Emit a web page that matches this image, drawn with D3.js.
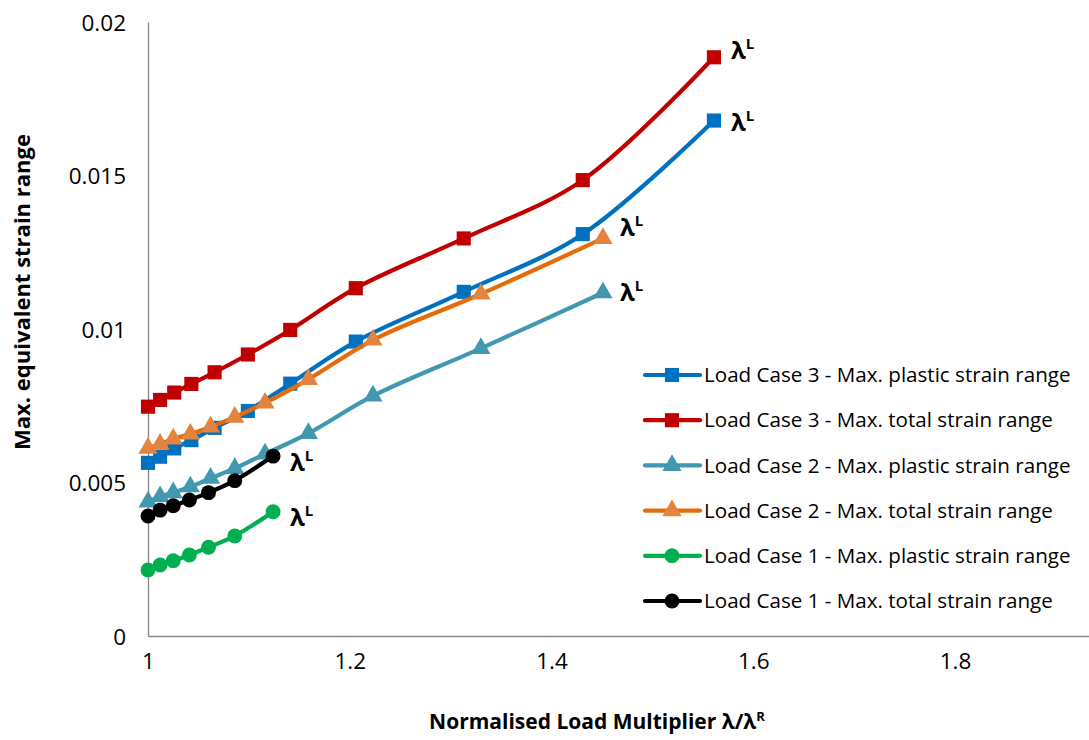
<!DOCTYPE html>
<html><head><meta charset="utf-8">
<script src="https://cdn.jsdelivr.net/npm/d3@7"></script>
<style>body{margin:0;background:#fff}svg{display:block}</style>
</head><body>
<svg id="chart" width="1089" height="740"></svg>
<script>
// ---- data ----
const lc3X = [1.000, 1.012, 1.026, 1.043, 1.066, 1.099, 1.141, 1.206, 1.313, 1.431, 1.561];
const lc3Plastic = [0.00564, 0.00584, 0.00611, 0.00638, 0.00678, 0.00733, 0.00822, 0.00959, 0.01121, 0.01309, 0.01679];
const lc3Total = [0.00747, 0.00769, 0.00793, 0.00821, 0.00859, 0.00917, 0.00997, 0.01133, 0.01295, 0.01485, 0.01885];
const lc2X = [1.000, 1.012, 1.025, 1.042, 1.062, 1.086, 1.116, 1.159, 1.223, 1.330, 1.451];
const lc2Plastic = [0.00437, 0.00454, 0.00467, 0.00486, 0.00514, 0.00546, 0.00593, 0.00660, 0.00782, 0.00937, 0.01118];
const lc2Total = [0.00612, 0.00625, 0.00642, 0.00658, 0.00681, 0.00713, 0.00759, 0.00836, 0.00964, 0.01114, 0.01295];
const lc1X = [1.000, 1.012, 1.025, 1.041, 1.060, 1.086, 1.124];
const lc1Plastic = [0.00215, 0.00231, 0.00245, 0.00264, 0.00289, 0.00326, 0.00405];
const lc1Total = [0.00391, 0.00410, 0.00424, 0.00443, 0.00467, 0.00506, 0.00586];
const seriesNames = [
  "Load Case 3 - Max. plastic strain range",
  "Load Case 3 - Max. total strain range",
  "Load Case 2 - Max. plastic strain range",
  "Load Case 2 - Max. total strain range",
  "Load Case 1 - Max. plastic strain range",
  "Load Case 1 - Max. total strain range"
];
const xTicks = [1, 1.2, 1.4, 1.6, 1.8];
const yTicks = [0, 0.005, 0.01, 0.015, 0.02];
const yTickLabels = ["0", "0.005", "0.01", "0.015", "0.02"];
const endLabel = "λ";
const endLabelSup = "L";

// ---- styles ----
const styles = [
  {x: lc3X, y: lc3Plastic, line: "#0070C0", fill: "#0070C0", marker: "square", ldy: 2},
  {x: lc3X, y: lc3Total, line: "#C00000", fill: "#C00000", marker: "square", ldy: -6},
  {x: lc2X, y: lc2Plastic, line: "#4298B0", fill: "#4298B0", marker: "triangle", ldy: 0},
  {x: lc2X, y: lc2Total, line: "#E46C0A", fill: "#E3843E", marker: "triangle", ldy: -10},
  {x: lc1X, y: lc1Plastic, line: "#00B050", fill: "#00B050", marker: "circle", ldy: 6},
  {x: lc1X, y: lc1Total, line: "#000000", fill: "#000000", marker: "circle", ldy: 7}
];

const svg = d3.select("#chart");
const x = d3.scaleLinear().domain([1, 2]).range([148, 1156.75]);
const y = d3.scaleLinear().domain([0, 0.02]).range([636, 22]);
const font = "'Open Sans', 'Noto Sans', sans-serif";

// axes
const xAxis = svg.append("g").attr("transform", "translate(0,636)")
  .call(d3.axisBottom(x).tickValues(xTicks).tickSize(0).tickPadding(17).tickFormat(d3.format("")));
xAxis.select(".domain").attr("stroke", "#868686").attr("stroke-width", 1.3);
xAxis.selectAll("text").attr("font-family", font).attr("font-size", 22.5).attr("fill", "#000");

const yAxis = svg.append("g").attr("transform", "translate(148,0)")
  .call(d3.axisLeft(y).tickValues(yTicks).tickSize(0).tickPadding(22).tickFormat((d, i) => yTickLabels[i]));
yAxis.select(".domain").attr("stroke", "#868686").attr("stroke-width", 1.3);
yAxis.selectAll("text").attr("font-family", font).attr("font-size", 22.5).attr("fill", "#000").attr("dy", "0.36em");

// axis titles
svg.append("text").attr("x", 597).attr("y", 729).attr("text-anchor", "middle")
  .attr("font-family", font).attr("font-weight", "bold").attr("font-size", 21)
  .text("Normalised Load Multiplier λ/λ").append("tspan").attr("dy", -8).attr("font-size", 13).text("R");
svg.append("text").attr("transform", "translate(30,292) rotate(-90)").attr("text-anchor", "middle")
  .attr("font-family", font).attr("font-weight", "bold").attr("font-size", 22)
  .text("Max. equivalent strain range");

const line = d3.line().x(d => x(d[0])).y(d => y(d[1])).curve(d3.curveCatmullRom.alpha(0.5));
const sym = {
  square: d3.symbol().type(d3.symbolSquare).size(200),
  triangle: d3.symbol().type(d3.symbolTriangle).size(160),
  circle: d3.symbol().type(d3.symbolCircle).size(175)
};

styles.forEach((s, i) => {
  const pts = s.x.map((xv, j) => [xv, s.y[j]]);
  const g = svg.append("g");
  g.append("path").attr("d", line(pts)).attr("fill", "none").attr("stroke", s.line)
    .attr("stroke-width", 4.2).attr("stroke-linejoin", "round");
  g.selectAll("path.m").data(pts).join("path").attr("class", "m")
    .attr("d", sym[s.marker]())
    .attr("transform", d => `translate(${x(d[0])},${y(d[1])})`)
    .attr("fill", s.fill);
  const last = pts[pts.length - 1];
  const t = svg.append("text").attr("x", x(last[0]) + 17).attr("y", y(last[1]) + s.ldy + 8)
    .attr("font-family", font).attr("font-weight", "bold").attr("font-size", 24).text(endLabel);
  t.append("tspan").attr("dy", -10).attr("font-size", 15).text(endLabelSup);
});

// legend
const lg = svg.append("g");
styles.forEach((s, i) => {
  const ly = 375 + i * 45.2;
  lg.append("line").attr("x1", 645).attr("x2", 700).attr("y1", ly).attr("y2", ly)
    .attr("stroke", s.line).attr("stroke-width", 4.2).attr("stroke-linecap", "round");
  lg.append("path").attr("d", sym[s.marker]()).attr("transform", `translate(672,${ly})`).attr("fill", s.fill);
  lg.append("text").attr("x", 704).attr("y", ly).attr("dy", "0.35em")
    .attr("font-family", font).attr("font-size", 20.6).attr("fill", "#000").text(seriesNames[i]);
});
</script>
</body></html>
